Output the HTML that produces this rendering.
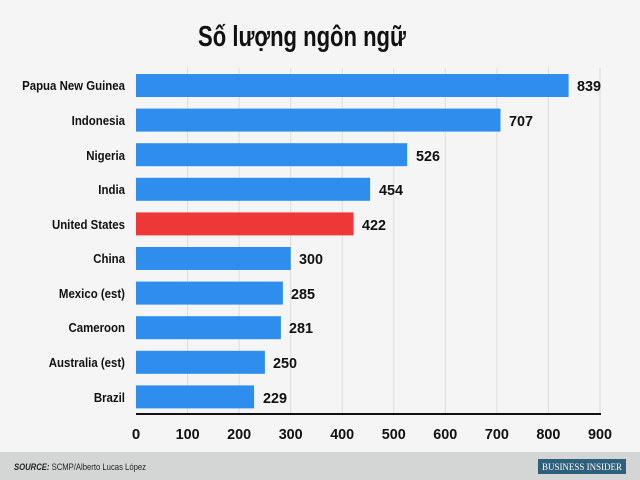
<!DOCTYPE html>
<html><head><meta charset="utf-8"><style>
html,body{margin:0;padding:0}
body{width:640px;height:480px;background:#f5f5f5;position:relative;overflow:hidden;font-family:"Liberation Sans","Noto Sans CJK SC",sans-serif}
</style></head><body>
<svg width="640" height="480" style="position:absolute;left:0;top:0" font-family="Liberation Sans, Noto Sans CJK SC, sans-serif">
<rect x="0" y="0" width="640" height="452" fill="#f5f5f5"/>
<text x="302" y="46" text-anchor="middle" font-size="29" font-weight="bold" fill="#111" transform="translate(302 0) scale(0.76 1) translate(-302 0)">Số lượng ngôn ngữ</text>
<g stroke="#dcdcdc" stroke-width="1">
<line x1="187.6" y1="68" x2="187.6" y2="414"/>
<line x1="239.1" y1="68" x2="239.1" y2="414"/>
<line x1="290.7" y1="68" x2="290.7" y2="414"/>
<line x1="342.2" y1="68" x2="342.2" y2="414"/>
<line x1="393.8" y1="68" x2="393.8" y2="414"/>
<line x1="445.3" y1="68" x2="445.3" y2="414"/>
<line x1="496.9" y1="68" x2="496.9" y2="414"/>
<line x1="548.4" y1="68" x2="548.4" y2="414"/>
<line x1="600" y1="68" x2="600" y2="414"/>
</g>
<g fill="#2e8ded">
<rect x="136" y="74" width="432.6" height="23"/>
<rect x="136" y="108.6" width="364.5" height="23"/>
<rect x="136" y="143.2" width="271.2" height="23"/>
<rect x="136" y="177.8" width="234.1" height="23"/>
<rect x="136" y="212.4" width="217.6" height="23" fill="#ee3838"/>
<rect x="136" y="247" width="154.7" height="23"/>
<rect x="136" y="281.6" width="146.9" height="23"/>
<rect x="136" y="316.2" width="144.9" height="23"/>
<rect x="136" y="350.8" width="128.9" height="23"/>
<rect x="136" y="385.4" width="118.1" height="23"/>
</g>
<line x1="136" y1="414" x2="601" y2="414" stroke="#111" stroke-width="2"/>
<g font-size="13" font-weight="bold" fill="#111" text-anchor="end" transform="translate(125 0) scale(0.88 1) translate(-125 0)">
<text x="125" y="90">Papua New Guinea</text>
<text x="125" y="125">Indonesia</text>
<text x="125" y="160">Nigeria</text>
<text x="125" y="194">India</text>
<text x="125" y="229">United States</text>
<text x="125" y="263">China</text>
<text x="125" y="298">Mexico (est)</text>
<text x="125" y="332">Cameroon</text>
<text x="125" y="367">Australia (est)</text>
<text x="125" y="402">Brazil</text>
</g>
<g font-size="15" font-weight="bold" fill="#111">
<text x="577" y="91" textLength="24" lengthAdjust="spacingAndGlyphs">839</text>
<text x="509" y="126" textLength="24" lengthAdjust="spacingAndGlyphs">707</text>
<text x="416" y="161" textLength="24" lengthAdjust="spacingAndGlyphs">526</text>
<text x="379" y="195" textLength="24" lengthAdjust="spacingAndGlyphs">454</text>
<text x="362" y="230" textLength="24" lengthAdjust="spacingAndGlyphs">422</text>
<text x="299" y="264" textLength="24" lengthAdjust="spacingAndGlyphs">300</text>
<text x="291" y="299" textLength="24" lengthAdjust="spacingAndGlyphs">285</text>
<text x="289" y="333" textLength="24" lengthAdjust="spacingAndGlyphs">281</text>
<text x="273" y="368" textLength="24" lengthAdjust="spacingAndGlyphs">250</text>
<text x="263" y="403" textLength="24" lengthAdjust="spacingAndGlyphs">229</text>
</g>
<g font-size="15" font-weight="bold" fill="#111" text-anchor="middle">
<text x="136" y="439">0</text><text x="187.6" y="439" textLength="24" lengthAdjust="spacingAndGlyphs">100</text><text x="239.1" y="439" textLength="24" lengthAdjust="spacingAndGlyphs">200</text>
<text x="290.7" y="439" textLength="24" lengthAdjust="spacingAndGlyphs">300</text><text x="342.2" y="439" textLength="24" lengthAdjust="spacingAndGlyphs">400</text><text x="393.8" y="439" textLength="24" lengthAdjust="spacingAndGlyphs">500</text>
<text x="445.3" y="439" textLength="24" lengthAdjust="spacingAndGlyphs">600</text><text x="496.9" y="439" textLength="24" lengthAdjust="spacingAndGlyphs">700</text><text x="548.4" y="439" textLength="24" lengthAdjust="spacingAndGlyphs">800</text>
<text x="600" y="439" textLength="24" lengthAdjust="spacingAndGlyphs">900</text>
</g>
<rect x="0" y="452" width="640" height="28" fill="#d4d6d6"/>
<text x="14" y="470" font-size="9" fill="#222" textLength="132" lengthAdjust="spacingAndGlyphs"><tspan font-weight="bold" font-style="italic">SOURCE:</tspan> SCMP/Alberto Lucas López</text>
<rect x="538" y="459" width="88" height="15" fill="#2f5f7a"/>
<text x="582" y="470" font-size="9" fill="#fff" text-anchor="middle" font-family="Liberation Serif, serif" textLength="80" lengthAdjust="spacingAndGlyphs">BUSINESS INSIDER</text>
</svg>
</body></html>
